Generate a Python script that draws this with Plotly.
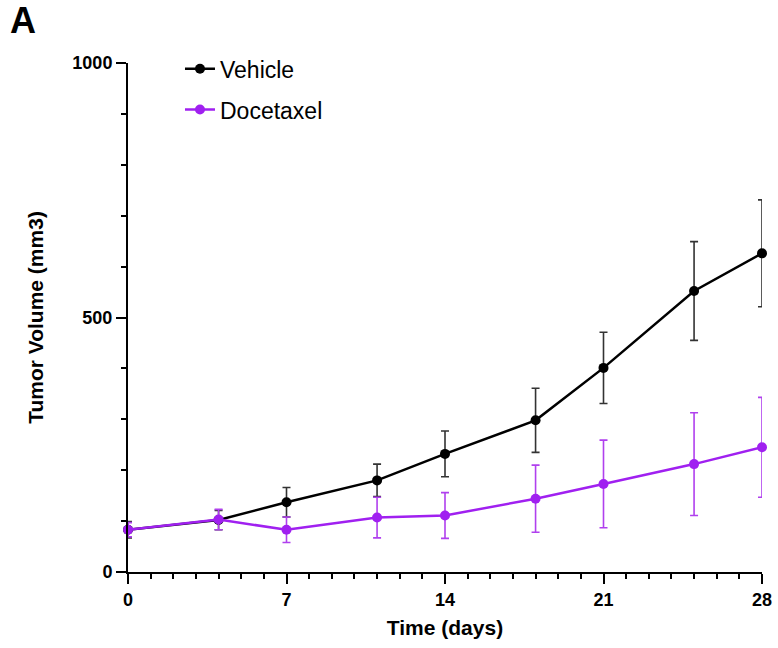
import plotly.graph_objects as go

days = [0, 4, 7, 11, 14, 18, 21, 25, 28]
vehicle_mean = [83, 102, 137, 180, 232, 298, 401, 552, 626]
vehicle_err = [16, 19, 29, 32, 45, 63, 70, 97, 105]
docetaxel_mean = [83, 103, 83, 107, 111, 144, 173, 212, 245]
docetaxel_err = [14, 20, 25, 40, 45, 66, 86, 101, 98]

x_ticks = [0, 7, 14, 21, 28]
y_ticks = [0, 500, 1000]

BLACK = "#000000"
PURPLE = "#A020F0"
FONT = "Liberation Sans, Arial, sans-serif"

fig = go.Figure()
fig.add_trace(go.Scatter(
    x=days, y=vehicle_mean, name="Vehicle", mode="lines+markers",
    line=dict(color=BLACK, width=2.5), marker=dict(color=BLACK, size=10),
    error_y=dict(type="data", array=vehicle_err, visible=True, color="#333333",
                 thickness=1.6, width=4),
    cliponaxis=False, legendgroup="v",
))
fig.add_trace(go.Scatter(
    x=days, y=docetaxel_mean, name="Docetaxel", mode="lines+markers",
    line=dict(color=PURPLE, width=2.5), marker=dict(color=PURPLE, size=10),
    error_y=dict(type="data", array=docetaxel_err, visible=True, color="#B040EE",
                 thickness=1.6, width=4),
    cliponaxis=False, legendgroup="d",
))

fig.update_layout(
    width=778, height=648,
    margin=dict(l=128, r=16, t=63, b=76),
    paper_bgcolor="white", plot_bgcolor="white",
    font=dict(family=FONT, color="black"),
    showlegend=True,
    legend=dict(x=0.082, y=1.031, xanchor="left", yanchor="top",
                font=dict(size=23, family=FONT, color="black"),
                tracegroupgap=8, bgcolor="rgba(0,0,0,0)"),
    xaxis=dict(
        range=[0, 28], tickvals=x_ticks, ticktext=[str(v) for v in x_ticks],
        showgrid=False, zeroline=False, showline=True, linecolor="black", linewidth=2,
        ticks="outside", ticklen=10, tickwidth=2, tickcolor="black", automargin=False,
        tickfont=dict(size=18, family=FONT, color="black", weight="bold"),
        minor=dict(dtick=1, ticks="outside", ticklen=5, tickwidth=2, tickcolor="black"),
        title=dict(text="<b>Time (days)</b>", font=dict(size=21, family=FONT, color="black"),
                   standoff=12),
    ),
    yaxis=dict(
        range=[0, 1000], tickvals=y_ticks, ticktext=[str(v) for v in y_ticks],
        showgrid=False, zeroline=False, showline=True, linecolor="black", linewidth=2,
        ticks="outside", ticklen=10, tickwidth=2, tickcolor="black", automargin=False,
        tickfont=dict(size=18, family=FONT, color="black", weight="bold"),
        minor=dict(dtick=100, ticks="outside", ticklen=5, tickwidth=2, tickcolor="black"),
        title=dict(text="<b>Tumor Volume (mm3)</b>", font=dict(size=21, family=FONT, color="black"),
                   standoff=23),
    ),
    annotations=[dict(text="<b>A</b>", xref="paper", yref="paper",
                      x=-0.19, y=1.127, xanchor="left", yanchor="top", showarrow=False,
                      font=dict(size=36, family=FONT, color="black"))],
)

fig.write_html("out.html", config={"displayModeBar": False},
               post_script="document.body.style.margin='0px';")
